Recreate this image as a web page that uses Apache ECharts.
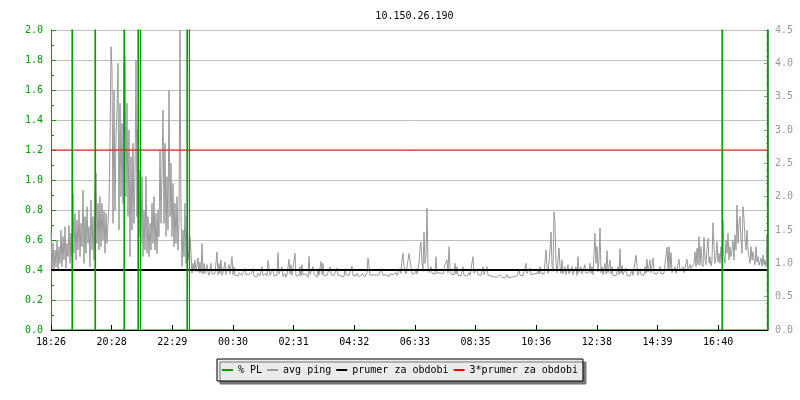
<!DOCTYPE html>
<html>
<head>
<meta charset="utf-8">
<script src="https://cdn.jsdelivr.net/npm/echarts@6/dist/echarts.min.js"></script>
<style>html,body{margin:0;padding:0;background:#fff}#c{width:800px;height:400px}</style>
</head>
<body>
<div id="c"></div>
<script>
// ---- data ----
const titleText = '10.150.26.190';
const tickLabels = ['18:26','20:28','22:29','00:30','02:31','04:32','06:33','08:35','10:36','12:38','14:39','16:40'];
const sampleStep = 2;        // minutes per ping sample
const spanMinutes = 1434;    // length of the period (minutes)
const xTickStep = 121.3;     // minutes between x labels
const avgPing = 0.9;         // "prumer za obdobi" (ms)
const seriesNames = ['% PL', 'avg ping', 'prumer za obdobi', '3*prumer za obdobi'];

// avg ping (ms), one sample every 2 minutes
const pingMs = [
1.47,0.92,1.3,0.88,1.2,0.95,1.35,0.9,1.25,1.0,
1.5,0.95,1.4,1.05,1.55,0.93,1.3,1.1,1.57,1.0,
1.45,1.1,2.05,1.15,1.75,1.05,1.65,1.2,1.8,1.1,
1.6,1.25,2.1,1.0,1.7,1.15,1.85,1.3,1.55,0.95,
1.95,1.2,1.7,1.05,2.05,2.35,1.3,1.9,1.2,2.0,
1.25,1.9,1.35,1.8,1.15,1.75,1.3,1.6,1.9,2.8,
4.25,3.9,1.6,3.6,1.8,2.9,3.3,4.0,1.5,3.4,
2.0,3.1,1.9,4.0,4.1,2.0,3.4,1.7,3.0,1.1,
2.6,1.5,2.8,1.6,2.3,4.05,1.7,3.0,1.4,2.4,
1.3,2.3,1.1,1.8,1.2,2.3,1.15,1.7,1.1,1.6,
1.2,1.9,1.3,2.0,1.2,1.75,1.15,1.8,1.4,2.7,
1.6,2.4,3.3,1.6,2.8,1.4,2.3,1.5,3.6,1.7,
2.5,1.4,2.2,1.25,1.9,1.3,2.0,1.2,1.6,4.5,
1.75,0.95,1.5,1.1,1.9,1.0,1.7,1.2,1.05,1.4,
1.15,0.85,1.0,0.9,1.05,0.88,0.97,1.08,0.86,1.02,
0.86,1.3,0.84,1.0,0.85,0.83,0.98,0.86,0.82,0.9,
1.0,0.84,0.87,0.82,0.85,0.88,1.17,0.83,1.0,0.85,
1.05,0.82,0.86,0.84,1.02,0.83,0.85,0.81,0.98,0.84,
0.86,1.1,0.83,0.95,0.82,0.85,0.84,0.81,0.86,0.83,
0.85,0.82,0.84,0.8,0.92,0.83,0.85,0.81,0.84,0.82,
0.83,0.86,0.92,0.81,0.84,0.82,0.8,0.85,0.83,0.81,
0.84,0.95,0.82,0.8,0.83,0.85,0.81,1.04,0.95,0.82,
0.8,0.84,0.92,0.81,0.83,0.79,0.82,1.16,0.84,0.81,
0.83,0.95,0.8,0.82,0.85,0.79,0.83,0.81,1.06,0.84,
0.98,0.82,0.8,0.84,1.15,0.81,0.83,0.79,0.82,0.95,
0.81,0.98,0.83,0.8,0.82,0.84,0.81,0.79,1.1,0.83,
0.82,0.8,0.95,0.84,0.81,0.83,0.79,0.92,0.82,0.8,
1.03,0.83,1.0,0.81,0.84,0.8,0.82,0.85,0.81,0.95,
0.83,0.8,0.84,0.82,0.81,0.85,0.93,0.82,0.8,0.83,
0.81,0.84,0.82,0.8,0.92,0.83,0.81,0.85,0.82,0.84,
0.83,0.96,0.82,0.8,0.84,0.81,0.85,0.82,0.8,0.83,
0.81,0.84,0.82,0.85,0.8,0.83,0.86,1.08,0.95,0.82,
0.84,0.81,0.83,0.8,0.85,0.82,0.84,0.81,0.83,0.86,
0.92,0.95,0.82,0.84,0.81,0.83,0.85,0.82,0.8,0.84,
0.82,0.85,0.83,0.81,0.84,0.86,0.82,0.84,0.83,0.92,
0.85,1.06,1.15,0.95,0.98,0.84,0.87,0.83,1.15,1.15,
0.95,0.84,0.86,0.83,0.85,0.92,0.84,0.86,1.0,1.23,
1.32,1.0,0.88,1.47,1.0,1.1,1.83,0.95,0.86,0.84,
0.95,0.85,0.83,0.86,0.84,1.1,0.85,0.82,0.84,0.86,
0.83,0.85,0.84,0.87,0.98,1.0,1.05,0.86,1.25,0.95,
0.84,0.82,0.85,0.83,1.0,0.84,0.95,0.82,0.85,0.83,
0.81,0.84,0.95,0.82,0.85,0.83,0.81,0.84,0.86,0.82,
0.84,0.83,1.1,0.85,0.82,0.84,0.92,0.83,0.81,0.84,
0.82,0.85,0.95,0.83,0.81,0.84,0.95,0.82,0.8,0.83,
0.81,0.84,0.82,0.8,0.83,0.81,0.79,0.82,0.8,0.83,
0.81,0.79,0.82,0.8,0.78,0.81,0.83,0.79,0.8,0.82,
0.79,0.81,0.78,0.8,0.82,0.79,0.81,0.8,0.9,0.82,
0.8,0.83,0.81,0.84,0.82,1.0,0.85,0.82,0.84,0.93,
0.83,0.85,0.82,0.84,0.86,0.83,0.85,0.9,0.84,0.95,
0.85,0.83,0.86,0.84,0.87,1.2,0.95,0.85,0.88,1.2,
1.47,0.95,0.88,1.77,1.6,1.0,0.86,1.05,1.23,0.95,
0.85,1.05,0.84,0.87,0.95,0.83,0.86,0.98,0.84,0.82,
0.86,0.95,0.83,0.85,0.84,0.95,0.82,1.1,0.86,0.83,
0.95,0.84,0.86,0.83,0.98,0.85,0.82,0.84,0.87,1.0,
0.85,0.95,0.83,0.86,1.45,1.0,1.25,0.87,1.05,1.53,
0.86,0.95,0.83,0.85,1.0,0.84,1.19,0.86,0.83,1.05,
0.84,0.95,0.82,0.85,0.83,0.81,0.84,0.95,0.83,1.22,
0.85,0.97,0.83,0.81,0.84,0.93,0.82,0.8,0.83,0.81,
0.84,0.9,0.82,0.8,0.83,1.12,0.95,0.82,0.84,0.92,
0.83,0.81,0.84,0.82,0.95,0.85,1.06,0.87,0.84,1.05,
0.86,0.84,1.08,0.85,0.83,0.86,0.84,0.82,0.85,0.95,
0.84,0.86,0.83,0.85,0.87,0.84,1.24,0.9,1.25,0.92,
1.16,0.86,0.84,0.87,0.95,0.85,0.83,0.86,1.06,0.88,
0.85,0.87,0.95,0.86,0.84,0.88,1.06,0.9,0.87,0.98,
0.92,0.95,0.9,1.0,1.175,0.95,1.225,0.98,1.4,0.97,
1.25,1.0,0.95,1.39,1.05,0.98,1.225,1.375,1.0,1.1,
0.96,1.05,1.61,1.25,1.0,1.1,1.325,1.02,1.15,1.0,
1.25,1.05,1.65,1.1,1.0,1.35,1.15,1.45,1.05,1.25,
1.1,1.2,1.35,1.05,1.425,1.2,1.875,1.3,1.6,1.7,
1.35,1.15,1.85,1.675,1.35,1.2,1.5,1.2,1.1,1.0,
1.25,1.05,1.175,1.05,0.98,1.25,1.02,1.1,0.97,1.0,
1.075,0.96,1.125,0.98,1.05,0.95,1.425,1.0
];

// packet loss events: minute, peak value, value of the following sample
const plTimes    = [42, 88, 146, 174, 178, 272, 276, 1342, 1433];
const plPeak     = [100, 100, 100, 100, 100, 100, 100, 100, 100];
const plShoulder = [1.0, 1.0, 1.75, 0.9, 1.0, 1.0, 1.0, 1.0, 1.0];

// ---- build series data ----
const pingData = pingMs.map((v, i) => [i * sampleStep, v]);
const plData = [[0, 0]];
plTimes.forEach((t, k) => {
  plData.push([t, 0], [t, plPeak[k]], [t + 1, plShoulder[k]], [t + 1, 0]);
});
plData.push([spanMinutes, 0]);

const FONT = 'DejaVu Sans Mono';
const GREEN = '#009900';
const GREY = '#999999';

const chart = echarts.init(document.getElementById('c'), null, {renderer: 'canvas'});
chart.setOption({
  animation: false,
  backgroundColor: '#ffffff',
  title: {
    text: titleText, left: 409.5, textAlign: 'center', top: 6,
    textStyle: {fontFamily: FONT, fontSize: 10, fontWeight: 'normal', color: '#000'}
  },
  grid: {left: 51, right: 32, top: 30, bottom: 70, containLabel: false},
  xAxis: {
    type: 'value', min: 0, max: spanMinutes, interval: xTickStep, z: 10,
    axisLine: {show: true, lineStyle: {color: '#000', width: 1}},
    axisTick: {show: true, inside: true, length: 5, lineStyle: {color: '#000'}},
    splitLine: {show: false},
    axisLabel: {
      fontFamily: FONT, fontSize: 10, color: '#000', margin: 7, showMaxLabel: false,
      formatter: v => { const k = Math.round(v / xTickStep); return Math.abs(v - k * xTickStep) < 0.5 && tickLabels[k] ? tickLabels[k] : ''; }
    }
  },
  yAxis: [
    {
      type: 'value', min: 0, max: 2, interval: 0.2, position: 'left',
      axisLine: {show: true, lineStyle: {color: GREEN, width: 1}},
      axisTick: {show: true, inside: true, length: 5, lineStyle: {color: GREEN}},
      minorTick: {show: true, splitNumber: 2, length: 3, lineStyle: {color: GREEN}},
      splitLine: {show: true, lineStyle: {color: '#c0c0c0', width: 1}},
      axisLabel: {fontFamily: FONT, fontSize: 10, color: GREEN, margin: 8, formatter: v => v.toFixed(1)}
    },
    {
      type: 'value', min: 0, max: 4.5, interval: 0.5, position: 'right',
      axisLine: {show: true, lineStyle: {color: GREY, width: 1}},
      axisTick: {show: true, inside: true, length: 4, lineStyle: {color: GREY}},
      minorTick: {show: true, splitNumber: 5, length: 2, lineStyle: {color: GREY}},
      splitLine: {show: false},
      axisLabel: {fontFamily: FONT, fontSize: 10, color: GREY, margin: 7, formatter: v => v.toFixed(1)}
    }
  ],
  legend: {
    data: seriesNames,
    left: 217, top: 359,
    orient: 'horizontal',
    padding: [6, 5, 6, 5],
    itemGap: 5,
    itemWidth: 11, itemHeight: 2,
    icon: 'rect',
    backgroundColor: '#ebebeb',
    borderColor: '#000', borderWidth: 1, borderRadius: 0,
    shadowColor: '#777777', shadowBlur: 0, shadowOffsetX: 3, shadowOffsetY: 3,
    textStyle: {fontFamily: FONT, fontSize: 10, color: '#000'},
    selectedMode: false
  },
  series: [
    {
      name: seriesNames[1], type: 'line', yAxisIndex: 1, data: pingData,
      showSymbol: false, symbol: 'none', clip: true, silent: true,
      lineStyle: {color: GREY, width: 1}, itemStyle: {color: GREY}, z: 2
    },
    {
      name: seriesNames[2], type: 'line', yAxisIndex: 1, data: [[0, avgPing], [spanMinutes, avgPing]],
      showSymbol: false, symbol: 'none', silent: true,
      lineStyle: {color: '#000', width: 2}, itemStyle: {color: '#000'}, z: 3
    },
    {
      name: seriesNames[3], type: 'line', yAxisIndex: 1, data: [[0, 3 * avgPing], [spanMinutes, 3 * avgPing]],
      showSymbol: false, symbol: 'none', silent: true,
      lineStyle: {color: '#ff0000', width: 1}, itemStyle: {color: '#ff0000'}, z: 3
    },
    {
      name: seriesNames[0], type: 'line', yAxisIndex: 0, data: plData,
      showSymbol: false, symbol: 'none', clip: true, silent: true,
      lineStyle: {color: GREEN, width: 1.2}, itemStyle: {color: GREEN}, z: 4
    }
  ]
});
</script>
</body>
</html>
